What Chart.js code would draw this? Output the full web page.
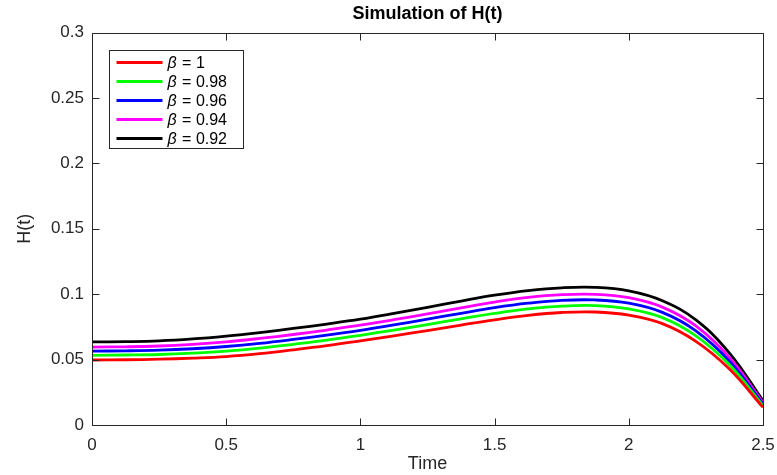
<!DOCTYPE html>
<html>
<head>
<meta charset="utf-8">
<script src="https://cdn.jsdelivr.net/npm/chart.js@4"></script>
<style>
  html, body { margin: 0; padding: 0; background: #fff; }
  #wrap { width: 777px; height: 475px; }
</style>
</head>
<body>
<div id="wrap"><canvas id="hChart" width="777" height="475"></canvas></div>
<script>
'use strict';

// values
const times = [0, 0.125, 0.25, 0.375, 0.5, 0.625, 0.75, 0.875, 1, 1.125, 1.25,
               1.375, 1.5, 1.625, 1.75, 1.875, 2, 2.125, 2.25, 2.375, 2.5];
const betas = ['1', '0.98', '0.96', '0.94', '0.92'];

const h100 = [0.0497, 0.0499, 0.0503, 0.0511, 0.0523, 0.0545, 0.0574, 0.0606, 0.0643, 0.0682, 0.0722,
              0.0764, 0.0804, 0.0838, 0.0860, 0.0864, 0.0840, 0.0775, 0.0640, 0.0428, 0.0135];
const h098 = [0.0533, 0.0535, 0.0539, 0.0549, 0.0564, 0.0587, 0.0617, 0.0649, 0.0686, 0.0726, 0.0768,
              0.0812, 0.0853, 0.0887, 0.0909, 0.0913, 0.0888, 0.0821, 0.0682, 0.0460, 0.0148];
const h096 = [0.0565, 0.0567, 0.0572, 0.0583, 0.0600, 0.0624, 0.0654, 0.0687, 0.0724, 0.0766, 0.0809,
              0.0854, 0.0897, 0.0931, 0.0953, 0.0956, 0.0931, 0.0861, 0.0720, 0.0488, 0.0160];
const h094 = [0.0596, 0.0598, 0.0604, 0.0617, 0.0636, 0.0662, 0.0692, 0.0726, 0.0763, 0.0805, 0.0850,
              0.0896, 0.0940, 0.0975, 0.0996, 0.0999, 0.0973, 0.0901, 0.0757, 0.0516, 0.0172];
const h092 = [0.0635, 0.0637, 0.0643, 0.0658, 0.0680, 0.0707, 0.0738, 0.0772, 0.0809, 0.0853, 0.0900,
              0.0948, 0.0993, 0.1028, 0.1049, 0.1052, 0.1025, 0.0950, 0.0803, 0.0550, 0.0186];

const xTicks = [0, 0.5, 1, 1.5, 2, 2.5];
const yTicks = [0, 0.05, 0.1, 0.15, 0.2, 0.25, 0.3];

const COLORS = ['#ff0000', '#00ff00', '#0000ff', '#ff00ff', '#000000'];
const AXIS = '#262626';
const FONT = "'Liberation Sans', Arial, Helvetica, sans-serif";

const series = [h100, h098, h096, h094, h092];

const datasets = series.map(function (vals, i) {
    return {
        label: betas[i],
        data: vals.map(function (v, j) { return { x: times[j], y: v } }),
        borderColor: COLORS[i],
        backgroundColor: COLORS[i],
        borderWidth: 2.8,
        pointRadius: 0,
        tension: 0.4,
        fill: false
    }
});

function plain(v) { return String(Math.round(v * 1000) / 1000) }

// MATLAB style box, inward ticks and legend
const boxPlugin = {
    id: 'box',
    afterDraw: function (chart) {
        const ctx = chart.ctx;
        const a = chart.chartArea;
        const xs = chart.scales.x;
        const ys = chart.scales.y;
        const L = Math.round(a.left) + 0.5, R = Math.round(a.right) + 0.5;
        const T = Math.round(a.top) + 0.5, B = Math.round(a.bottom) + 0.5;
        ctx.save();
        ctx.strokeStyle = AXIS;
        ctx.lineWidth = 1;
        ctx.beginPath();
        ctx.rect(L, T, R - L, B - T);
        xTicks.forEach(function (t) {
            const px = Math.round(xs.getPixelForValue(t)) + 0.5;
            ctx.moveTo(px, B); ctx.lineTo(px, B - 7);
            ctx.moveTo(px, T); ctx.lineTo(px, T + 7);
        });
        yTicks.forEach(function (t) {
            const py = Math.round(ys.getPixelForValue(t)) + 0.5;
            ctx.moveTo(L, py); ctx.lineTo(L + 7, py);
            ctx.moveTo(R, py); ctx.lineTo(R - 7, py);
        });
        ctx.stroke();

        // legend
        const lx = L + 17, ly = T + 17, lw = 134, lh = 98;
        ctx.fillStyle = '#fff';
        ctx.fillRect(lx, ly, lw, lh);
        ctx.strokeStyle = AXIS;
        ctx.strokeRect(lx, ly, lw, lh);
        chart.data.datasets.forEach(function (ds, i) {
            const cy = ly + 12 + i * 19;
            ctx.strokeStyle = ds.borderColor;
            ctx.lineWidth = 2.8;
            ctx.beginPath();
            ctx.moveTo(lx + 7, cy); ctx.lineTo(lx + 53, cy);
            ctx.stroke();
            ctx.fillStyle = '#000';
            ctx.textBaseline = 'middle';
            ctx.textAlign = 'left';
            ctx.font = 'italic 16px ' + FONT;
            ctx.fillText('\u03b2', lx + 58, cy + 1);
            const w = ctx.measureText('\u03b2').width;
            ctx.font = '16px ' + FONT;
            ctx.fillText(' = ' + ds.label, lx + 59 + w, cy + 1);
        });
        ctx.restore();
    }
};

const ctx = document.getElementById('hChart').getContext('2d');
const chart = new Chart(ctx, {
    type: 'line',
    data: { datasets: datasets },
    plugins: [boxPlugin],
    options: {
        responsive: false,
        animation: false,
        layout: { padding: { top: 0, right: 14, bottom: 0, left: 0 } },
        plugins: {
            legend: { display: false },
            tooltip: { enabled: false },
            title: {
                display: true,
                fullSize: false,
                text: 'Simulation of H(t)',
                color: '#000',
                font: { family: FONT, size: 18, weight: 'bold' },
                padding: { top: 3, bottom: 8 }
            }
        },
        scales: {
            x: {
                type: 'linear',
                min: 0,
                max: 2.5,
                afterFit: function (s) { s.height = 50; s.paddingLeft = 0; s.paddingRight = 0 },
                afterBuildTicks: function (s) { s.ticks = xTicks.map(function (v) { return { value: v } }) },
                grid: { display: false, drawTicks: false },
                border: { display: false },
                ticks: { color: AXIS, padding: 10, font: { family: FONT, size: 17 }, callback: plain },
                title: {
                    display: true, text: 'Time', color: AXIS,
                    font: { family: FONT, size: 18 },
                    padding: { top: 0, bottom: 0 }
                }
            },
            y: {
                type: 'linear',
                min: 0,
                max: 0.3,
                afterFit: function (s) { s.width = 92 },
                afterBuildTicks: function (s) { s.ticks = yTicks.map(function (v) { return { value: v } }) },
                grid: { display: false, drawTicks: false },
                border: { display: false },
                ticks: { color: AXIS, padding: 8, font: { family: FONT, size: 17 }, callback: plain },
                title: {
                    display: true, text: 'H(t)', color: AXIS,
                    font: { family: FONT, size: 18 },
                    padding: { top: 14, bottom: 0 }
                }
            }
        }
    }
});
</script>
</body>
</html>
